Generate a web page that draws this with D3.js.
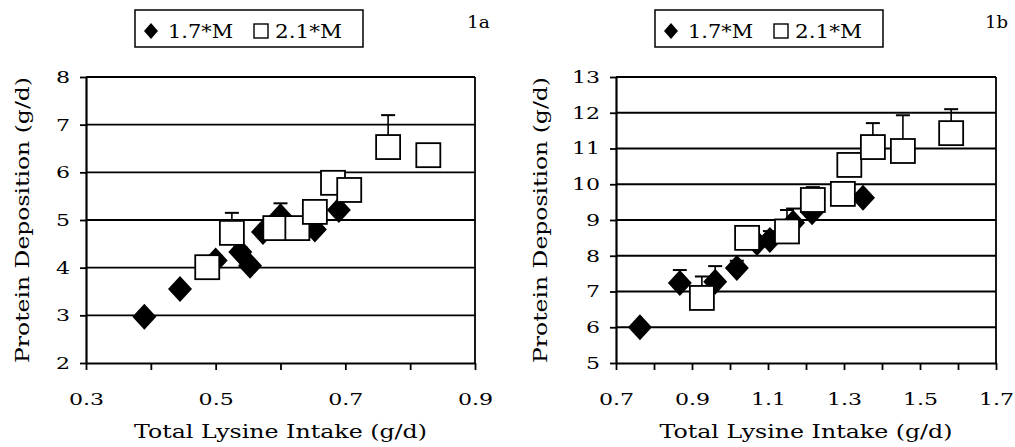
<!DOCTYPE html>
<html>
<head>
<meta charset="utf-8">
<script src="https://cdn.jsdelivr.net/npm/d3@7"></script>
<style>
  body { margin: 0; background: #fff; }
  svg text { font-family: "DejaVu Serif", serif; fill: #000; }
</style>
</head>
<body>
<div id="chart"></div>
<script>
// Panel 1a
const lysA_17 = [0.39, 0.445, 0.50, 0.538, 0.553, 0.573, 0.60, 0.653, 0.69]
const pdA_17 = [2.97, 3.55, 4.15, 4.33, 4.04, 4.75, 5.08, 4.80, 5.21]
const errA_17 = [0.08, 0.05, 0.1, 0.1, 0.08, 0, 0.27, 0.05, 0.05]
const lysA_21 = [0.487, 0.525, 0.592, 0.626, 0.653, 0.681, 0.706, 0.766, 0.828]
const pdA_21 = [4.01, 4.73, 4.83, 4.83, 5.17, 5.78, 5.63, 6.53, 6.36]
const errA_21 = [0.06, 0.42, 0.03, 0.03, 0, 0.03, 0.06, 0.67, 0]

// Panel 1b
const lysB_17 = [0.763, 0.868, 0.961, 1.018, 1.071, 1.105, 1.166, 1.216, 1.35]
const pdB_17 = [6.0, 7.24, 7.27, 7.66, 8.36, 8.44, 8.92, 9.22, 9.62]
const errB_17 = [0, 0.36, 0.44, 0.2, 0, 0.25, 0.4, 0, 0]
const lysB_21 = [0.926, 1.045, 1.15, 1.218, 1.297, 1.314, 1.376, 1.455, 1.582]
const pdB_21 = [6.82, 8.5, 8.68, 9.56, 9.73, 10.54, 11.04, 10.93, 11.43]
const errB_21 = [0.6, 0, 0.6, 0.36, 0.3, 0, 0.67, 1.0, 0.67]

const xTicksA = [0.3, 0.4, 0.5, 0.6, 0.7, 0.8, 0.9]
const xLabelsA = [0.3, 0.5, 0.7, 0.9]
const yTicksA = [2, 3, 4, 5, 6, 7, 8]
const xTicksB = [0.7, 0.8, 0.9, 1.0, 1.1, 1.2, 1.3, 1.4, 1.5, 1.6, 1.7]
const xLabelsB = [0.7, 0.9, 1.1, 1.3, 1.5, 1.7]
const yTicksB = [5, 6, 7, 8, 9, 10, 11, 12, 13]

const seriesNames = ['1.7*M', '2.1*M']

const svg = d3.select('#chart').append('svg')
  .attr('width', 1015)
  .attr('height', 447)

// the original face is a wide serif; widen DejaVu Serif to match
function stretch(sel, factor, width) {
  sel.each(function () {
    const w = this.getComputedTextLength()
    d3.select(this)
      .attr('textLength', width || w * factor)
      .attr('lengthAdjust', 'spacingAndGlyphs')
  })
}

function panel(opts) {
  const g = svg.append('g')
  const x = d3.scaleLinear().domain(opts.xDomain).range([opts.left, opts.right])
  const y = d3.scaleLinear().domain(opts.yDomain).range([363, 77])

  // gridlines
  g.selectAll('line.grid')
    .data(opts.yTicks.slice(1))
    .join('line')
    .attr('x1', opts.left).attr('x2', opts.right)
    .attr('y1', d => y(d)).attr('y2', d => y(d))
    .attr('stroke', '#000').attr('stroke-width', 1.8)

  // right border
  g.append('line')
    .attr('x1', opts.right).attr('x2', opts.right)
    .attr('y1', 77).attr('y2', 363)
    .attr('stroke', '#000').attr('stroke-width', 1.8)

  // y axis
  const yAxis = g.append('g')
    .attr('transform', `translate(${opts.left},0)`)
    .call(d3.axisLeft(y).tickValues(opts.yTicks).tickSize(6).tickSizeOuter(0).tickPadding(10)
      .tickFormat(d3.format('d')))
  yAxis.select('.domain').attr('stroke-width', 2.2)
  yAxis.selectAll('line').attr('stroke-width', 1.8)
  yAxis.selectAll('text').style('font-size', '17px').call(stretch, 1.3)

  // x axis
  const xAxis = g.append('g')
    .attr('transform', 'translate(0,363)')
    .call(d3.axisBottom(x).tickValues(opts.xTicks).tickSize(7).tickSizeOuter(0).tickPadding(23)
      .tickFormat(d => opts.xLabels.some(v => Math.abs(v - d) < 1e-9) ? d3.format('.1f')(d) : ''))
  xAxis.select('.domain').attr('stroke-width', 2.2)
  xAxis.selectAll('line').attr('stroke-width', 1.8)
  xAxis.selectAll('text').style('font-size', '17px').call(stretch, 1.3)

  // axis titles
  g.append('text')
    .attr('x', (opts.left + opts.right) / 2)
    .attr('y', 438)
    .attr('text-anchor', 'middle')
    .style('font-size', '19px')
    .text('Total Lysine Intake (g/d)')
    .call(stretch, 1, 293)

  g.append('text')
    .attr('transform', `translate(${opts.yTitleX},${(77 + 363) / 2}) rotate(-90)`)
    .attr('text-anchor', 'middle')
    .style('font-size', '19px')
    .text('Protein Deposition (g/d)')
    .call(stretch, 1, 286)

  // series
  const s1 = opts.lys17.map((v, i) => ({ x: v, y: opts.pd17[i], e: opts.err17[i] }))
  const s2 = opts.lys21.map((v, i) => ({ x: v, y: opts.pd21[i], e: opts.err21[i] }))

  function errorBars(data) {
    const eb = g.append('g')
    const d = data.filter(p => p.e > 0)
    eb.selectAll('line.v').data(d).join('line')
      .attr('x1', p => x(p.x)).attr('x2', p => x(p.x))
      .attr('y1', p => y(p.y)).attr('y2', p => y(p.y + p.e))
      .attr('stroke', '#000').attr('stroke-width', 1.6)
    eb.selectAll('line.c').data(d).join('line')
      .attr('x1', p => x(p.x) - 7).attr('x2', p => x(p.x) + 7)
      .attr('y1', p => y(p.y + p.e)).attr('y2', p => y(p.y + p.e))
      .attr('stroke', '#000').attr('stroke-width', 2)
  }

  errorBars(s1)
  g.append('g').selectAll('path').data(s1).join('path')
    .attr('d', 'M0,-13L12,0L0,13L-12,0Z')
    .attr('transform', p => `translate(${x(p.x)},${y(p.y)})`)
    .attr('fill', '#000')

  errorBars(s2)
  g.append('g').selectAll('rect').data(s2).join('rect')
    .attr('x', p => x(p.x) - 12).attr('y', p => y(p.y) - 12)
    .attr('width', 24).attr('height', 24)
    .attr('fill', '#fff').attr('stroke', '#000').attr('stroke-width', 1.8)

  // legend
  const lg = g.append('g').attr('transform', `translate(${opts.legendX},10)`)
  lg.append('rect')
    .attr('x', 0).attr('y', 0).attr('width', 228).attr('height', 37)
    .attr('fill', '#fff').attr('stroke', '#000').attr('stroke-width', 1.5)
  lg.append('path').attr('d', 'M0,-8L7,0L0,8L-7,0Z')
    .attr('transform', 'translate(16,21)').attr('fill', '#000')
  lg.append('text').attr('x', 33).attr('y', 28).style('font-size', '19px')
    .text(seriesNames[0]).call(stretch, 1, 65)
  lg.append('rect').attr('x', 119).attr('y', 14).attr('width', 14).attr('height', 14)
    .attr('fill', '#fff').attr('stroke', '#000').attr('stroke-width', 1.4)
  lg.append('text').attr('x', 140).attr('y', 28).style('font-size', '19px')
    .text(seriesNames[1]).call(stretch, 1, 67)

  g.append('text')
    .attr('x', opts.tagX).attr('y', 28)
    .style('font-size', '17px')
    .text(opts.tag)
    .call(stretch, 1, 23)
}

panel({
  left: 86, right: 475,
  xDomain: [0.3, 0.9], yDomain: [2, 8],
  xTicks: xTicksA, xLabels: xLabelsA, yTicks: yTicksA,
  lys17: lysA_17, pd17: pdA_17, err17: errA_17,
  lys21: lysA_21, pd21: pdA_21, err21: errA_21,
  yTitleX: 29, legendX: 135, tagX: 467, tag: '1a'
})

panel({
  left: 616, right: 996,
  xDomain: [0.7, 1.7], yDomain: [5, 13],
  xTicks: xTicksB, xLabels: xLabelsB, yTicks: yTicksB,
  lys17: lysB_17, pd17: pdB_17, err17: errB_17,
  lys21: lysB_21, pd21: pdB_21, err21: errB_21,
  yTitleX: 547, legendX: 655, tagX: 985, tag: '1b'
})
</script>
</body>
</html>
